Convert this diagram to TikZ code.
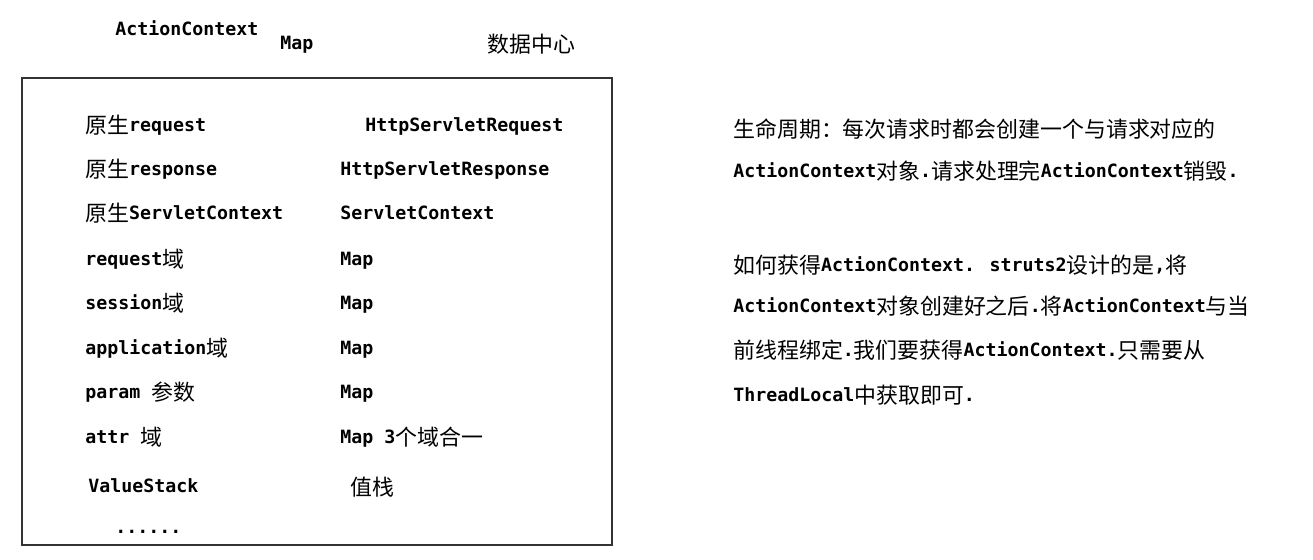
\documentclass[tikz,border=0pt]{standalone}
\usepackage{fontspec}
\setmainfont{DejaVu Sans Mono}
\newfontfamily\cjk{Noto Sans CJK SC}[Scale=1.2]
\newcommand\zh[1]{\raisebox{-1.5pt}{\cjk\mdseries #1}}
\usepackage{tikz}

\begin{document}
\begin{tikzpicture}[x=0.02cm,y=-0.02cm,
  txt/.style={anchor=base west,inner sep=0pt,font=\fontsize{10.4}{12}\selectfont\bfseries},
  frame/.style={draw=black!80,line width=1.1pt}]
\useasboundingbox (0,0) rectangle (1313,559);
% heading
\node[txt] (ac) at (115,35) {ActionContext};
\node[txt] (map) at (280,49) {Map};
\node[txt] (center) at (487,50) {\zh{数据中心}};
% the data centre
\draw[frame] (22,78) rectangle (612,545);
\node[txt] (req) at (85,131) {\zh{原生}request};
\node[txt] (reqv) at (365,131) {HttpServletRequest};
\node[txt] (resp) at (85,175) {\zh{原生}response};
\node[txt] (respv) at (340,175) {HttpServletResponse};
\node[txt] (sc) at (85,219) {\zh{原生}ServletContext};
\node[txt] (scv) at (340,219) {ServletContext};
\node[txt] (reqd) at (85,265) {request\zh{域}};
\node[txt] (reqdv) at (340,265) {Map};
\node[txt] (sess) at (85,309) {session\zh{域}};
\node[txt] (sessv) at (340,309) {Map};
\node[txt] (app) at (85,354) {application\zh{域}};
\node[txt] (appv) at (340,354) {Map};
\node[txt] (param) at (85,398) {param \zh{参数}};
\node[txt] (paramv) at (340,398) {Map};
\node[txt] (attr) at (85,443) {attr \zh{域}};
\node[txt] (attrv) at (340,443) {Map 3\zh{个域合一}};
\node[txt] (vs) at (88,492) {ValueStack};
\node[txt] (vsv) at (350,493) {\zh{值栈}};
\node[txt] (more) at (115,533) {......};
% notes
\node[txt] (life1) at (733,135) {\zh{生命周期：每次请求时都会创建一个与请求对应的}};
\node[txt] (life2) at (733,177) {ActionContext\zh{对象}.\zh{请求处理完}ActionContext\zh{销毁}.};
\node[txt] (get1) at (733,271) {\zh{如何获得}ActionContext. struts2\zh{设计的是},\zh{将}};
\node[txt] (get2) at (733,312) {ActionContext\zh{对象创建好之后}.\zh{将}ActionContext\zh{与当}};
\node[txt] (get3) at (733,356) {\zh{前线程绑定}.\zh{我们要获得}ActionContext.\zh{只需要从}};
\node[txt] (get4) at (733,401) {ThreadLocal\zh{中获取即可}.};
\end{tikzpicture}
\end{document}
